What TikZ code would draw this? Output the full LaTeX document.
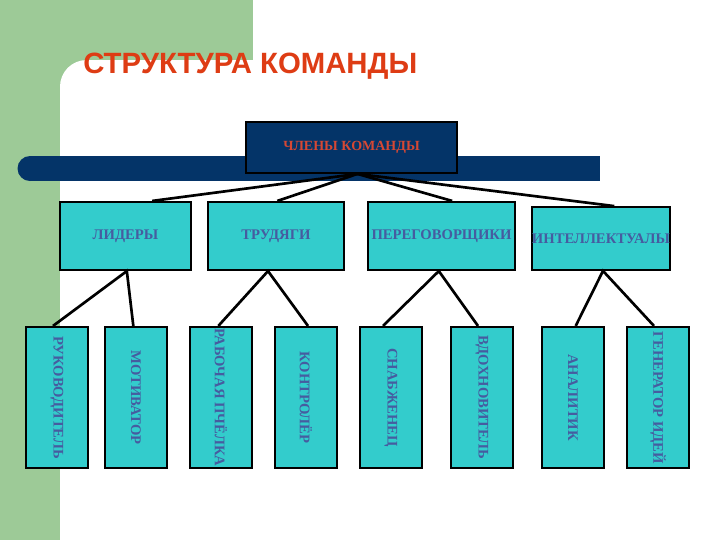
\documentclass[tikz,border=0pt]{standalone}
\usepackage{fontspec}
\setmainfont{Liberation Serif}
\newfontfamily\titlefont{Liberation Sans}
\definecolor{leafgreen}{RGB}{157,202,151}
\definecolor{navybar}{RGB}{4,52,104}
\definecolor{tealbox}{RGB}{51,204,204}
\definecolor{roletext}{RGB}{70,92,160}
\definecolor{headred}{RGB}{222,60,20}
\definecolor{memred}{RGB}{214,72,52}

\begin{document}
\begin{tikzpicture}[
    x=0.75pt, y=-0.75pt,
    link/.style={line width=2pt},
    topbox/.style={draw=black, line width=1.6pt, fill=navybar, text=memred, inner sep=0pt,
        font=\fontsize{10.5}{12}\selectfont\bfseries},
    groupbox/.style={draw=black, line width=1.6pt, fill=tealbox, text=roletext, inner sep=0pt,
        minimum height=51pt, font=\fontsize{11}{13}\selectfont\bfseries},
    rolebox/.style={draw=black, line width=1.6pt, fill=tealbox, text=roletext, inner sep=0pt,
        minimum width=46.5pt, minimum height=105.75pt, font=\fontsize{11}{13}\selectfont\bfseries}
]
    \useasboundingbox (0,0) rectangle (720,540);

    % Background
    \begin{scope}
        \clip (0,0) rectangle (720,540);
        \fill[leafgreen] (0,0) rectangle (720,540);
        \fill[white] (253,0) rectangle (720,60);
        \fill[white, rounded corners=20pt] (60,60) rectangle (780,600);
    \end{scope}

    % Title
    \node[anchor=base west, inner sep=0pt, text=headred, font=\titlefont\fontsize{22}{24}\selectfont\bfseries] (title) at (83,73.5) {СТРУКТУРА КОМАНДЫ};

    % Bar
    \fill[navybar] (30,156) rectangle (600,181);
    \fill[navybar] (30,168.5) circle (12.5);

    % Top
    \node[topbox, minimum width=158pt, minimum height=38pt] (members) at (351.5,147.5) {ЧЛЕНЫ КОМАНДЫ};

    % Groups
    \node[groupbox, minimum width=98pt] (leaders) at (125.5,236) {ЛИДЕРЫ};
    \node[groupbox, minimum width=102pt] (workers) at (276,236) {ТРУДЯГИ};
    \node[groupbox, minimum width=110pt] (talkers) at (441.5,236) {ПЕРЕГОВОРЩИКИ};
    \node[groupbox, minimum width=102pt, minimum height=47pt] (thinkers) at (601,238.5) {ИНТЕЛЛЕКТУАЛЫ};

    % Roles
    \foreach \name/\x/\txt in {head/57/РУКОВОДИТЕЛЬ, motiv/136/МОТИВАТОР, bee/221/РАБОЧАЯ ПЧЁЛКА,
        check/306/КОНТРОЛЁР, supply/391/СНАБЖЕНЕЦ, inspire/482/ВДОХНОВИТЕЛЬ,
        analyst/573/АНАЛИТИК, ideas/658/ГЕНЕРАТОР ИДЕЙ} {
        \node[rolebox] (\name) at (\x,397.5) {\rotatebox{-90}{\txt}};
    }

    % Links from the top
    \draw[link] ([xshift=4.5pt]members.south) -- ([xshift=20pt]leaders.north);
    \draw[link] ([xshift=4.5pt]members.south) -- ([xshift=1pt]workers.north);
    \draw[link] ([xshift=4.5pt]members.south) -- ([xshift=8pt]talkers.north);
    \draw[link] ([xshift=4.5pt]members.south) -- ([xshift=10pt]thinkers.north);

    % Links to the roles
    \foreach \grp/\dx/\a/\da/\b/\db in {leaders/1/head/-3/motiv/-2, workers/-6/bee/-2/check/1.5,
        talkers/-2/supply/-6/inspire/-3, thinkers/1.5/analyst/2/ideas/-3} {
        \draw[link] ([xshift=\da pt]\a.north) -- ([xshift=\dx pt]\grp.south) -- ([xshift=\db pt]\b.north);
    }
\end{tikzpicture}
\end{document}
